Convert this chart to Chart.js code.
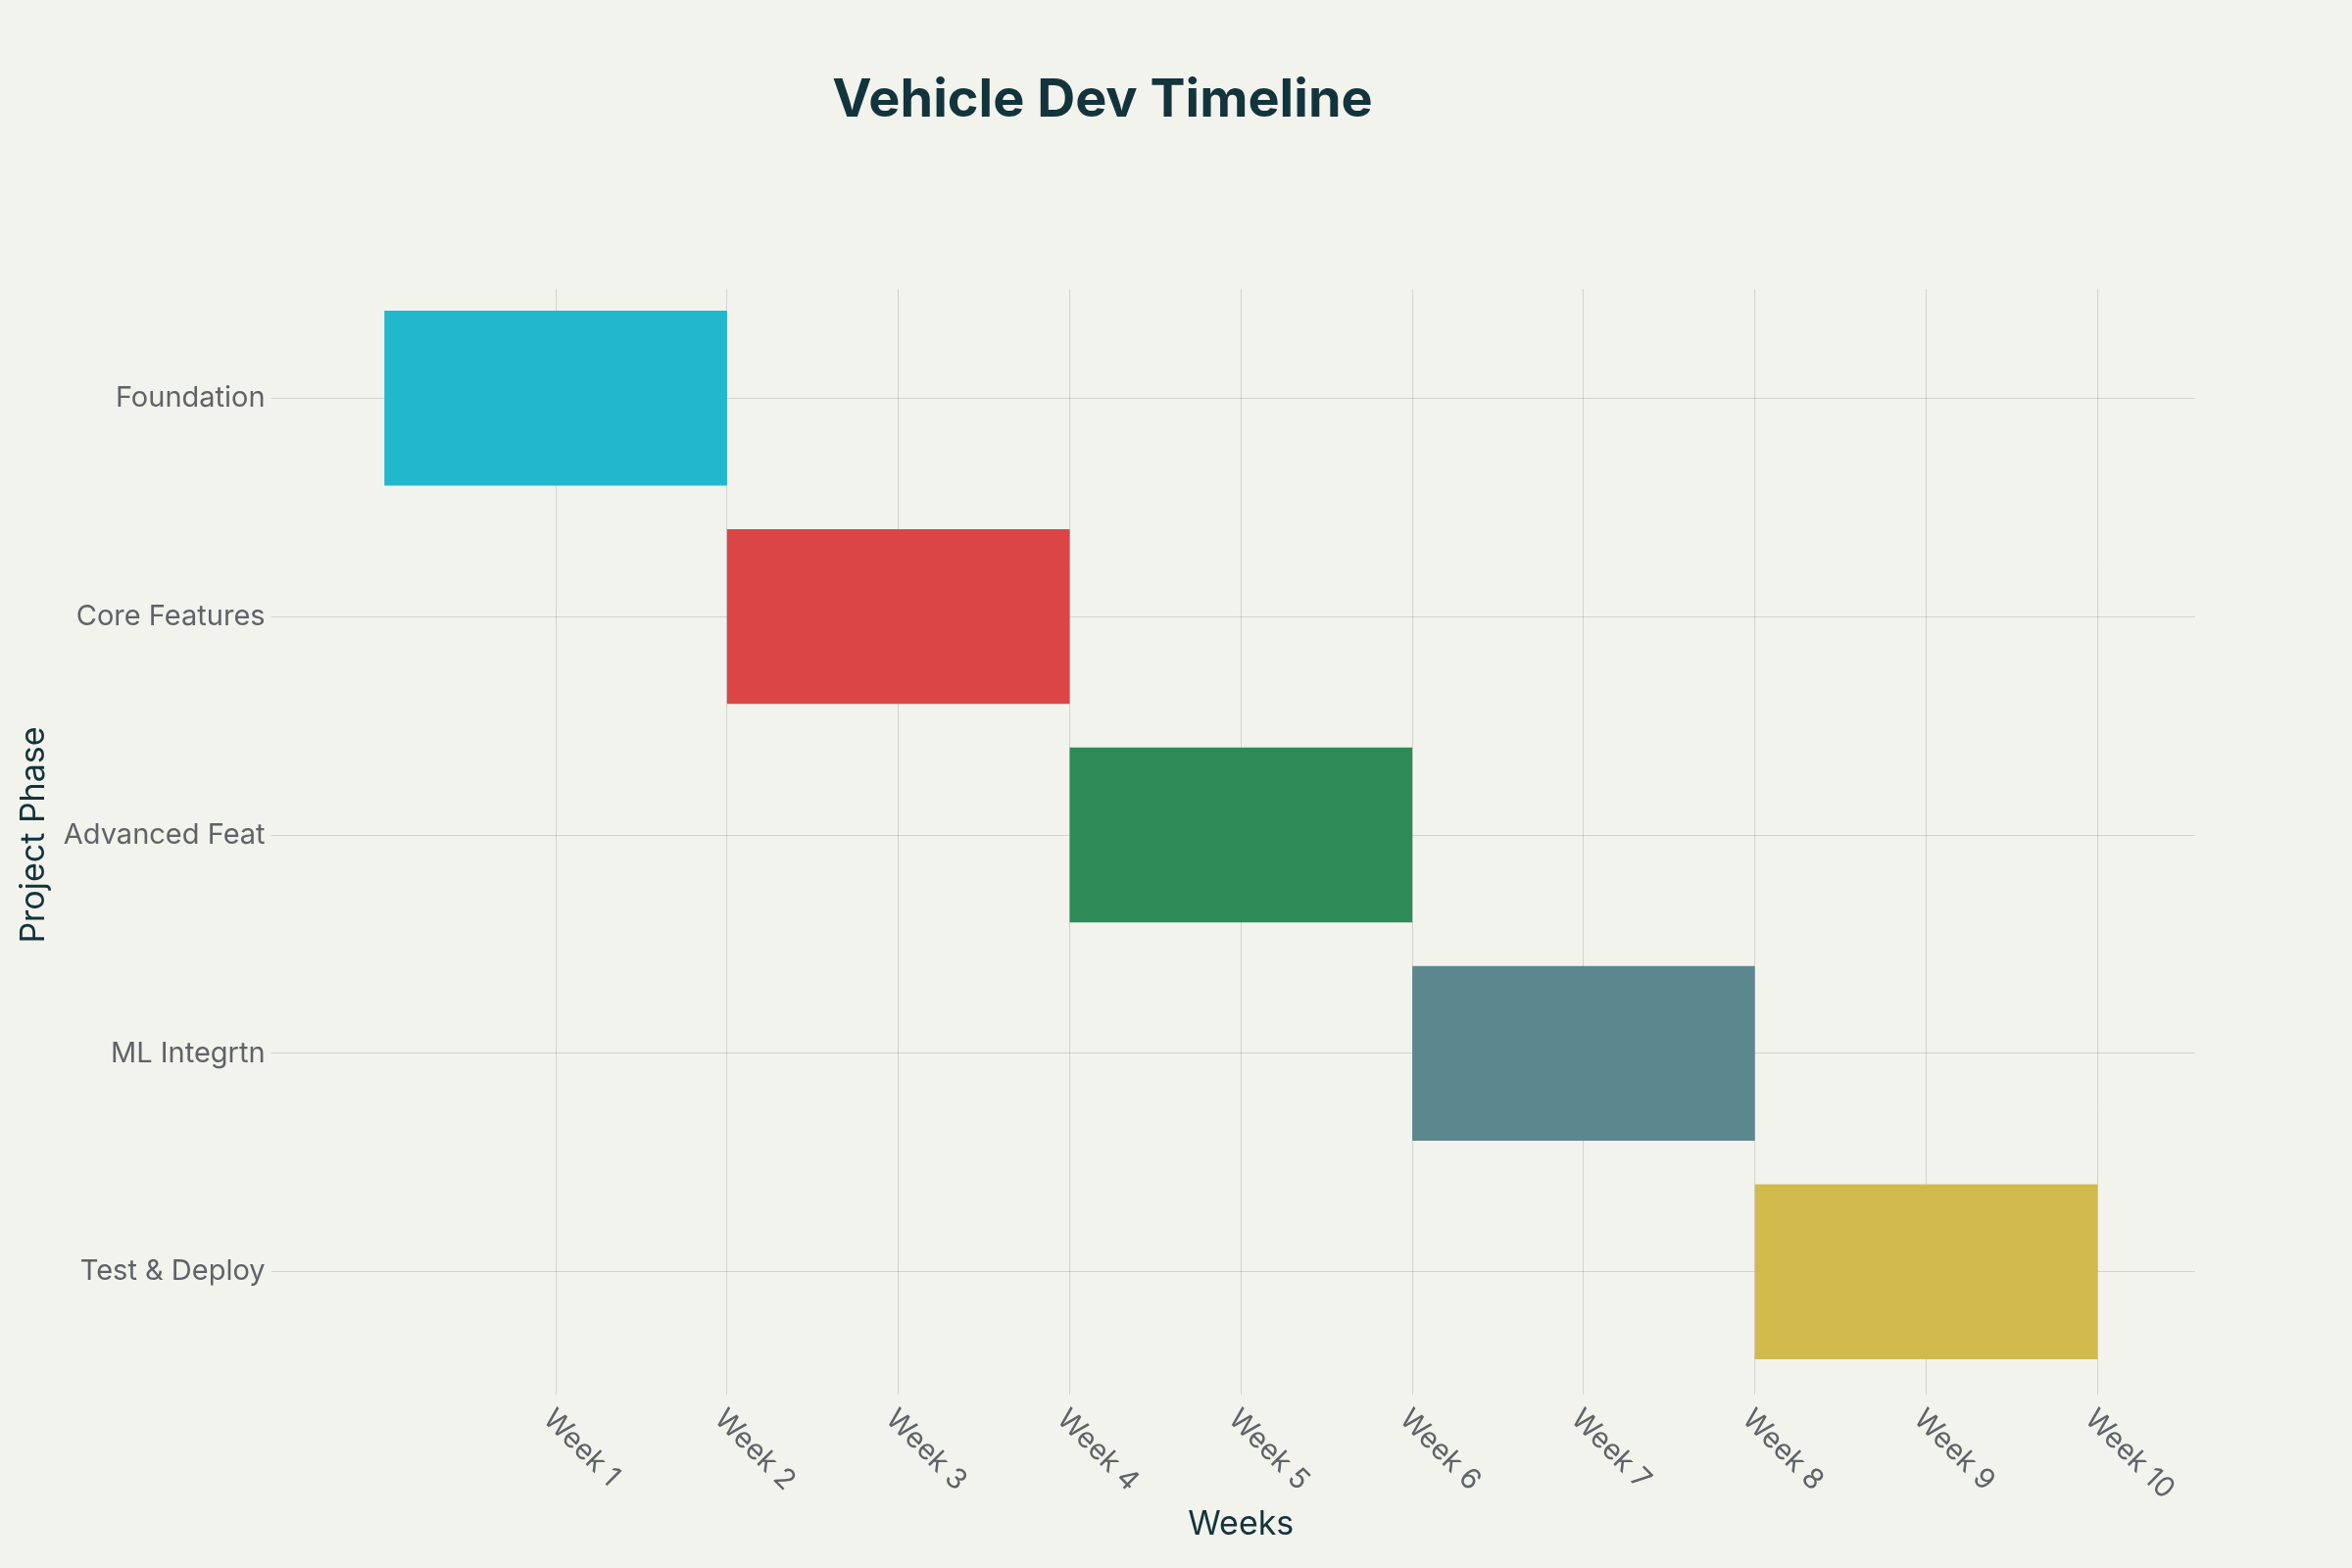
<!DOCTYPE html>
<html><head><meta charset="utf-8">
<script src="https://cdn.jsdelivr.net/npm/chart.js@4"></script>
<style>body{margin:0;background:#f3f3ee}canvas{display:block}</style>
</head><body>
<canvas id="c" width="2400" height="1600"></canvas>
<script>
// phases and their week spans
const phases = ['Foundation', 'Core Features', 'Advanced Feat', 'ML Integrtn', 'Test & Deploy'];
const startWeek = [0, 2, 4, 6, 8];
const endWeek = [2, 4, 6, 8, 10];
const weekLabels = ['Week 1','Week 2','Week 3','Week 4','Week 5','Week 6','Week 7','Week 8','Week 9','Week 10'];
const colors = ['#21b7cc', '#db4545', '#2e8b57', '#5d878f', '#d2b94b'];

const FONT = 'Inter, "Liberation Sans", sans-serif';

// rotated week labels hanging down-right from each tick
const weekTicks = {
	id: 'weekTicks',
	afterDraw(chart){
		const x = chart.scales.x, ctx = chart.ctx;
		ctx.save();
		ctx.font = '29px ' + FONT;
		ctx.fillStyle = '#5f6368';
		ctx.textAlign = 'left';
		ctx.textBaseline = 'middle';
		weekLabels.forEach((t, i) => {
			const px = x.getPixelForValue(i + 1);
			ctx.save();
			ctx.translate(px - 8, x.top + 34);
			ctx.rotate(Math.PI / 4);
			ctx.fillText(t, 0, 0);
			ctx.restore();
		});
		ctx.restore();
	}
};

new Chart(document.getElementById('c').getContext('2d'), {
	type: 'bar',
	data: {
		labels: phases,
		datasets: [{
			data: phases.map((p, i) => [startWeek[i], endWeek[i]]),
			backgroundColor: colors,
			barPercentage: 0.8,
			categoryPercentage: 1
		}]
	},
	options: {
		indexAxis: 'y',
		responsive: false,
		devicePixelRatio: 1,
		animation: false,
		layout: { padding: { left: 10, right: 160, top: 20, bottom: 20 } },
		plugins: {
			legend: { display: false },
			tooltip: { enabled: false },
			title: {
				display: true, text: 'Vehicle Dev Timeline', color: '#13343b',
				font: { family: FONT, size: 54, weight: 'bold' },
				padding: { top: 50, bottom: 160 }
			}
		},
		scales: {
			x: {
				min: -0.57, max: 10.57,
				afterBuildTicks(s){ s.ticks = weekLabels.map((t, i) => ({ value: i + 1 })); },
				grid: { color: 'rgba(0,0,0,0.13)', drawTicks: true, tickLength: 14 },
				border: { display: false },
				ticks: { color: 'transparent', font: { family: FONT, size: 29 }, minRotation: 45, maxRotation: 45,
					callback: (v) => weekLabels[v - 1] },
				title: { display: true, text: 'Weeks', color: '#13343b', font: { family: FONT, size: 34 }, padding: { top: 0 } }
			},
			y: {
				grid: { color: 'rgba(0,0,0,0.13)', offset: false, tickLength: 16 },
				border: { display: false },
				ticks: { color: '#5f6368', font: { family: FONT, size: 29 }, padding: 6 },
				title: { display: true, text: 'Project Phase', color: '#13343b', font: { family: FONT, size: 34 } }
			}
		}
	},
	plugins: [weekTicks, {
		id: 'bg',
		beforeDraw(c){ c.ctx.save(); c.ctx.fillStyle = '#f3f3ee'; c.ctx.fillRect(0, 0, c.width, c.height); c.ctx.restore(); }
	}]
});
</script>
</body></html>
